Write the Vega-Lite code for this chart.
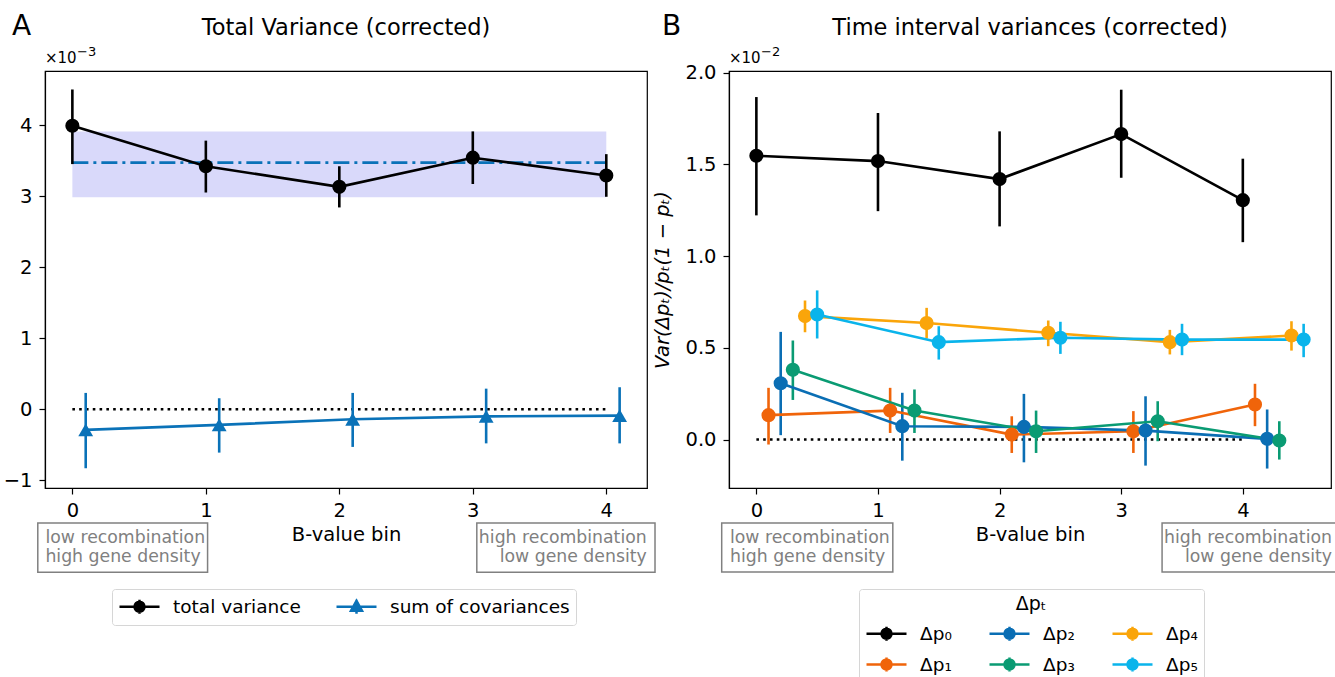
{
  "$schema": "https://vega.github.io/schema/vega-lite/v6.json",
  "padding": {"left": 2, "top": 12, "right": 0, "bottom": 0},
  "spacing": 82,
  "bounds": "flush",
  "config": {
    "font": "DejaVu Sans",
    "view": {"stroke": "black", "strokeWidth": 1.2},
    "axis": {"grid": false, "domainColor": "black", "domainWidth": 1.2, "tickColor": "black", "tickWidth": 1.2, "tickSize": 6, "labelPadding": 7, "labelColor": "black", "titleColor": "black", "labelFont": "DejaVu Sans", "titleFont": "DejaVu Sans", "labelFontSize": 19.5, "titleFontSize": 19.5, "titleFontWeight": "normal"},
    "legend": {"labelFont": "DejaVu Sans", "labelFontSize": 18.5, "labelColor": "black", "labelLimit": 400, "titleFont": "DejaVu Sans", "titleFontSize": 19, "titleFontWeight": "normal", "titleColor": "black", "strokeColor": "#d6d6d6", "fillColor": "white", "cornerRadius": 3, "padding": 6, "symbolStrokeWidth": 2.5, "symbolOpacity": 1}
  },
  "datasets": {
    "A": [
      {"series": "total variance", "x": 0, "y": 3.99, "lo": 3.45, "hi": 4.5},
      {"series": "total variance", "x": 1, "y": 3.42, "lo": 3.05, "hi": 3.78},
      {"series": "total variance", "x": 2, "y": 3.13, "lo": 2.84, "hi": 3.42},
      {"series": "total variance", "x": 3, "y": 3.54, "lo": 3.17, "hi": 3.91},
      {"series": "total variance", "x": 4, "y": 3.29, "lo": 2.99, "hi": 3.59},
      {"series": "sum of covariances", "x": 0.1, "y": -0.29, "lo": -0.83, "hi": 0.23},
      {"series": "sum of covariances", "x": 1.1, "y": -0.22, "lo": -0.61, "hi": 0.155},
      {"series": "sum of covariances", "x": 2.1, "y": -0.14, "lo": -0.53, "hi": 0.23},
      {"series": "sum of covariances", "x": 3.1, "y": -0.1, "lo": -0.48, "hi": 0.29},
      {"series": "sum of covariances", "x": 4.1, "y": -0.09, "lo": -0.48, "hi": 0.31}
    ],
    "bandA": [{"from": 0, "to": 4, "lo": 2.985, "hi": 3.91, "mean": 3.47}],
    "zero": [{"from": 0, "to": 4, "y": 0}],
    "B": [
      {"series": "Δp₀", "x": 0, "y": 1.547, "lo": 1.222, "hi": 1.867},
      {"series": "Δp₀", "x": 1, "y": 1.518, "lo": 1.245, "hi": 1.78},
      {"series": "Δp₀", "x": 2, "y": 1.42, "lo": 1.162, "hi": 1.68},
      {"series": "Δp₀", "x": 3, "y": 1.665, "lo": 1.427, "hi": 1.907},
      {"series": "Δp₀", "x": 4, "y": 1.305, "lo": 1.076, "hi": 1.531},
      {"series": "Δp₁", "x": 0.1, "y": 0.133, "lo": -0.027, "hi": 0.282},
      {"series": "Δp₁", "x": 1.1, "y": 0.158, "lo": 0.036, "hi": 0.282},
      {"series": "Δp₁", "x": 2.1, "y": 0.027, "lo": -0.073, "hi": 0.127},
      {"series": "Δp₁", "x": 3.1, "y": 0.045, "lo": -0.073, "hi": 0.155},
      {"series": "Δp₁", "x": 4.1, "y": 0.191, "lo": 0.073, "hi": 0.304},
      {"series": "Δp₂", "x": 0.2, "y": 0.307, "lo": 0.024, "hi": 0.587},
      {"series": "Δp₂", "x": 1.2, "y": 0.073, "lo": -0.115, "hi": 0.255},
      {"series": "Δp₂", "x": 2.2, "y": 0.069, "lo": -0.124, "hi": 0.249},
      {"series": "Δp₂", "x": 3.2, "y": 0.049, "lo": -0.142, "hi": 0.236},
      {"series": "Δp₂", "x": 4.2, "y": 0.004, "lo": -0.158, "hi": 0.164},
      {"series": "Δp₃", "x": 0.3, "y": 0.38, "lo": 0.216, "hi": 0.54},
      {"series": "Δp₃", "x": 1.3, "y": 0.158, "lo": 0.036, "hi": 0.273},
      {"series": "Δp₃", "x": 2.3, "y": 0.045, "lo": -0.073, "hi": 0.158},
      {"series": "Δp₃", "x": 3.3, "y": 0.1, "lo": -0.009, "hi": 0.209},
      {"series": "Δp₃", "x": 4.3, "y": -0.005, "lo": -0.109, "hi": 0.1},
      {"series": "Δp₄", "x": 0.4, "y": 0.673, "lo": 0.585, "hi": 0.758},
      {"series": "Δp₄", "x": 1.4, "y": 0.635, "lo": 0.551, "hi": 0.718},
      {"series": "Δp₄", "x": 2.4, "y": 0.582, "lo": 0.509, "hi": 0.649},
      {"series": "Δp₄", "x": 3.4, "y": 0.531, "lo": 0.464, "hi": 0.598},
      {"series": "Δp₄", "x": 4.4, "y": 0.567, "lo": 0.485, "hi": 0.645},
      {"series": "Δp₅", "x": 0.5, "y": 0.682, "lo": 0.551, "hi": 0.813},
      {"series": "Δp₅", "x": 1.5, "y": 0.531, "lo": 0.436, "hi": 0.618},
      {"series": "Δp₅", "x": 2.5, "y": 0.555, "lo": 0.467, "hi": 0.642},
      {"series": "Δp₅", "x": 3.5, "y": 0.545, "lo": 0.46, "hi": 0.631},
      {"series": "Δp₅", "x": 4.5, "y": 0.545, "lo": 0.449, "hi": 0.631}
    ],
    "one": [{}]
  },
  "resolve": {"scale": {"color": "independent", "stroke": "independent", "shape": "independent", "x": "independent", "y": "independent"}, "legend": {"color": "independent", "stroke": "independent", "shape": "independent"}},
  "hconcat": [
    {
      "width": 602,
      "height": 417,
      "layer": [
        {
          "data": {"name": "A"},
          "transform": [{"filter": "false"}],
          "mark": {"type": "point", "filled": true, "strokeWidth": 2.5, "opacity": 1},
          "encoding": {
            "x": {"field": "x", "type": "quantitative", "scale": {"domain": [-0.205, 4.305], "nice": false, "zero": false}, "axis": {"values": [0, 1, 2, 3, 4], "format": "d", "title": "B-value bin", "titlePadding": 6}},
            "y": {"field": "y", "type": "quantitative", "scale": {"domain": [-1.108, 4.76], "nice": false, "zero": false}, "axis": {"values": [-1, 0, 1, 2, 3, 4], "format": "d", "title": null}},
            "color": {"field": "series", "type": "nominal", "scale": {"domain": ["total variance", "sum of covariances"], "range": ["black", "#0a72b8"]}, "legend": {"orient": "none", "legendX": 67, "legendY": 518, "direction": "horizontal", "columns": 2, "title": null, "symbolSize": 400, "symbolOffset": 10, "labelOffset": 22, "columnPadding": 30}},
            "stroke": {"field": "series", "type": "nominal", "scale": {"domain": ["total variance", "sum of covariances"], "range": ["black", "#0a72b8"]}},
            "shape": {"field": "series", "type": "nominal", "scale": {"domain": ["total variance", "sum of covariances"], "range": ["M-2,0L2,0M0,-0.7L0,0.7M-0.5,0A0.5,0.5,0,1,0,0.5,0A0.5,0.5,0,1,0,-0.5,0Z", "M-2,0L2,0M0,-0.7L0,0.7M0,-0.6L0.55,0.4L-0.55,0.4Z"]}}
          }
        },
        {
          "data": {"name": "bandA"},
          "mark": {"type": "rect", "color": "#d9d9fa"},
          "encoding": {"x": {"field": "from", "type": "quantitative"}, "x2": {"field": "to"}, "y": {"field": "lo", "type": "quantitative"}, "y2": {"field": "hi"}}
        },
        {
          "data": {"name": "bandA"},
          "mark": {"type": "rule", "color": "#0a72b8", "strokeWidth": 2.6, "strokeDash": [16, 5, 3, 5]},
          "encoding": {"x": {"field": "from", "type": "quantitative"}, "x2": {"field": "to"}, "y": {"field": "mean", "type": "quantitative"}}
        },
        {
          "data": {"name": "zero"},
          "mark": {"type": "rule", "color": "black", "strokeWidth": 2.6, "strokeDash": [2.6, 4.2]},
          "encoding": {"x": {"field": "from", "type": "quantitative"}, "x2": {"field": "to"}, "y": {"field": "y", "type": "quantitative"}}
        },
        {
          "data": {"name": "A"},
          "mark": {"type": "rule", "strokeWidth": 2.6},
          "encoding": {"x": {"field": "x", "type": "quantitative"}, "y": {"field": "lo", "type": "quantitative"}, "y2": {"field": "hi"}, "color": {"field": "series", "type": "nominal", "legend": null}}
        },
        {
          "data": {"name": "A"},
          "mark": {"type": "line", "strokeWidth": 2.6},
          "encoding": {"x": {"field": "x", "type": "quantitative"}, "y": {"field": "y", "type": "quantitative"}, "color": {"field": "series", "type": "nominal", "legend": null}}
        },
        {
          "data": {"name": "A"},
          "transform": [{"filter": "datum.series == 'total variance'"}],
          "mark": {"type": "point", "filled": true, "opacity": 1, "shape": "circle", "size": 200},
          "encoding": {"x": {"field": "x", "type": "quantitative"}, "y": {"field": "y", "type": "quantitative"}, "color": {"field": "series", "type": "nominal", "legend": null}}
        },
        {
          "data": {"name": "A"},
          "transform": [{"filter": "datum.series == 'sum of covariances'"}],
          "mark": {"type": "point", "filled": true, "opacity": 1, "shape": "triangle-up", "size": 220},
          "encoding": {"x": {"field": "x", "type": "quantitative"}, "y": {"field": "y", "type": "quantitative"}, "color": {"field": "series", "type": "nominal", "legend": null}}
        },
        {
          "data": {"name": "one"},
          "mark": {"type": "rect", "fill": "white", "stroke": "#808080", "strokeWidth": 1.5},
          "encoding": {"x": {"datum": -0.259}, "x2": {"datum": 1.013}, "y": {"datum": -1.6}, "y2": {"datum": -2.292}}
        },
        {
          "data": {"name": "one"},
          "mark": {"type": "rect", "fill": "white", "stroke": "#808080", "strokeWidth": 1.5},
          "encoding": {"x": {"datum": 3.03}, "x2": {"datum": 4.365}, "y": {"datum": -1.6}, "y2": {"datum": -2.292}}
        },
        {
          "data": {"name": "one"},
          "mark": {"type": "text", "align": "left", "baseline": "alphabetic", "fontSize": 17.3, "color": "#808080", "lineHeight": 19},
          "encoding": {"x": {"datum": -0.202}, "y": {"datum": -1.88}, "text": {"value": ["low recombination", "high gene density"]}}
        },
        {
          "data": {"name": "one"},
          "mark": {"type": "text", "align": "right", "baseline": "alphabetic", "fontSize": 17.3, "color": "#808080", "lineHeight": 19},
          "encoding": {"x": {"datum": 4.303}, "y": {"datum": -1.88}, "text": {"value": ["high recombination", "low gene density"]}}
        },
        {
          "data": {"name": "one"},
          "mark": {"type": "text", "align": "left", "baseline": "alphabetic", "fontSize": 28, "color": "black"},
          "encoding": {"x": {"datum": -0.452}, "y": {"datum": 5.27}, "text": {"value": "A"}}
        },
        {
          "data": {"name": "one"},
          "mark": {"type": "text", "align": "center", "baseline": "alphabetic", "fontSize": 22.5, "color": "black"},
          "encoding": {"x": {"datum": 2.05}, "y": {"datum": 5.27}, "text": {"value": "Total Variance (corrected)"}}
        },
        {
          "data": {"name": "one"},
          "mark": {"type": "text", "align": "left", "baseline": "alphabetic", "fontSize": 15, "color": "black"},
          "encoding": {"x": {"datum": -0.205}, "y": {"datum": 4.873}, "text": {"value": "×10"}}
        },
        {
          "data": {"name": "one"},
          "mark": {"type": "text", "align": "left", "baseline": "alphabetic", "fontSize": 13, "color": "black"},
          "encoding": {"x": {"datum": 0.035}, "y": {"datum": 4.97}, "text": {"value": "−3"}}
        }
      ]
    },
    {
      "width": 602,
      "height": 417,
      "layer": [
        {
          "data": {"name": "B"},
          "transform": [{"filter": "false"}],
          "mark": {"type": "point", "filled": true, "strokeWidth": 2.5, "opacity": 1},
          "encoding": {
            "x": {"field": "x", "type": "quantitative", "scale": {"domain": [-0.225, 4.725], "nice": false, "zero": false}, "axis": {"values": [0, 1, 2, 3, 4], "format": "d", "title": "B-value bin", "titlePadding": 6}},
            "y": {"field": "y", "type": "quantitative", "scale": {"domain": [-0.264, 2.009], "nice": false, "zero": false}, "axis": {"values": [0, 0.5, 1, 1.5, 2], "format": ".1f", "title": "Var(Δpₜ)/pₜ(1 − pₜ)", "titleFontStyle": "italic", "titlePadding": 12}},
            "color": {"field": "series", "type": "nominal", "scale": {"domain": ["Δp₀", "Δp₂", "Δp₄", "Δp₁", "Δp₃", "Δp₅"], "range": ["black", "#0a6eb4", "#faa50a", "#f0640a", "#0a9b73", "#0ab4eb"]}, "legend": {"orient": "none", "legendX": 130, "legendY": 518, "direction": "horizontal", "columns": 3, "title": "Δpₜ", "titleAnchor": "middle", "titlePadding": 8, "symbolSize": 400, "symbolOffset": 10, "labelOffset": 22, "columnPadding": 32, "rowPadding": 6}},
            "stroke": {"field": "series", "type": "nominal", "scale": {"domain": ["Δp₀", "Δp₂", "Δp₄", "Δp₁", "Δp₃", "Δp₅"], "range": ["black", "#0a6eb4", "#faa50a", "#f0640a", "#0a9b73", "#0ab4eb"]}},
            "shape": {"field": "series", "type": "nominal", "scale": {"domain": ["Δp₀", "Δp₂", "Δp₄", "Δp₁", "Δp₃", "Δp₅"], "range": ["M-2,0L2,0M0,-0.7L0,0.7M-0.5,0A0.5,0.5,0,1,0,0.5,0A0.5,0.5,0,1,0,-0.5,0Z", "M-2,0L2,0M0,-0.7L0,0.7M-0.5,0A0.5,0.5,0,1,0,0.5,0A0.5,0.5,0,1,0,-0.5,0Z", "M-2,0L2,0M0,-0.7L0,0.7M-0.5,0A0.5,0.5,0,1,0,0.5,0A0.5,0.5,0,1,0,-0.5,0Z", "M-2,0L2,0M0,-0.7L0,0.7M-0.5,0A0.5,0.5,0,1,0,0.5,0A0.5,0.5,0,1,0,-0.5,0Z", "M-2,0L2,0M0,-0.7L0,0.7M-0.5,0A0.5,0.5,0,1,0,0.5,0A0.5,0.5,0,1,0,-0.5,0Z", "M-2,0L2,0M0,-0.7L0,0.7M-0.5,0A0.5,0.5,0,1,0,0.5,0A0.5,0.5,0,1,0,-0.5,0Z"]}}
          }
        },
        {
          "data": {"name": "zero"},
          "mark": {"type": "rule", "color": "black", "strokeWidth": 2.6, "strokeDash": [2.6, 4.2]},
          "encoding": {"x": {"field": "from", "type": "quantitative"}, "x2": {"field": "to"}, "y": {"field": "y", "type": "quantitative"}}
        },
        {
          "data": {"name": "B"},
          "mark": {"type": "rule", "strokeWidth": 2.6},
          "encoding": {"x": {"field": "x", "type": "quantitative"}, "y": {"field": "lo", "type": "quantitative"}, "y2": {"field": "hi"}, "color": {"field": "series", "type": "nominal", "legend": null}}
        },
        {
          "data": {"name": "B"},
          "mark": {"type": "line", "strokeWidth": 2.6},
          "encoding": {"x": {"field": "x", "type": "quantitative"}, "y": {"field": "y", "type": "quantitative"}, "color": {"field": "series", "type": "nominal", "legend": null}}
        },
        {
          "data": {"name": "B"},
          "mark": {"type": "point", "filled": true, "opacity": 1, "shape": "circle", "size": 200},
          "encoding": {"x": {"field": "x", "type": "quantitative"}, "y": {"field": "y", "type": "quantitative"}, "color": {"field": "series", "type": "nominal", "legend": null}}
        },
        {
          "data": {"name": "one"},
          "mark": {"type": "rect", "fill": "white", "stroke": "#808080", "strokeWidth": 1.5},
          "encoding": {"x": {"datum": -0.285}, "x2": {"datum": 1.122}, "y": {"datum": -0.455}, "y2": {"datum": -0.722}}
        },
        {
          "data": {"name": "one"},
          "mark": {"type": "rect", "fill": "white", "stroke": "#808080", "strokeWidth": 1.5},
          "encoding": {"x": {"datum": 3.336}, "x2": {"datum": 4.8}, "y": {"datum": -0.455}, "y2": {"datum": -0.722}}
        },
        {
          "data": {"name": "one"},
          "mark": {"type": "text", "align": "left", "baseline": "alphabetic", "fontSize": 17.3, "color": "#808080", "lineHeight": 19},
          "encoding": {"x": {"datum": -0.217}, "y": {"datum": -0.563}, "text": {"value": ["low recombination", "high gene density"]}}
        },
        {
          "data": {"name": "one"},
          "mark": {"type": "text", "align": "right", "baseline": "alphabetic", "fontSize": 17.3, "color": "#808080", "lineHeight": 19},
          "encoding": {"x": {"datum": 4.733}, "y": {"datum": -0.563}, "text": {"value": ["high recombination", "low gene density"]}}
        },
        {
          "data": {"name": "one"},
          "mark": {"type": "text", "align": "left", "baseline": "alphabetic", "fontSize": 28, "color": "black"},
          "encoding": {"x": {"datum": -0.776}, "y": {"datum": 2.205}, "text": {"value": "B"}}
        },
        {
          "data": {"name": "one"},
          "mark": {"type": "text", "align": "center", "baseline": "alphabetic", "fontSize": 22.5, "color": "black"},
          "encoding": {"x": {"datum": 2.25}, "y": {"datum": 2.205}, "text": {"value": "Time interval variances (corrected)"}}
        },
        {
          "data": {"name": "one"},
          "mark": {"type": "text", "align": "left", "baseline": "alphabetic", "fontSize": 15, "color": "black"},
          "encoding": {"x": {"datum": -0.225}, "y": {"datum": 2.053}, "text": {"value": "×10"}}
        },
        {
          "data": {"name": "one"},
          "mark": {"type": "text", "align": "left", "baseline": "alphabetic", "fontSize": 13, "color": "black"},
          "encoding": {"x": {"datum": 0.038}, "y": {"datum": 2.091}, "text": {"value": "−2"}}
        }
      ]
    }
  ]
}
